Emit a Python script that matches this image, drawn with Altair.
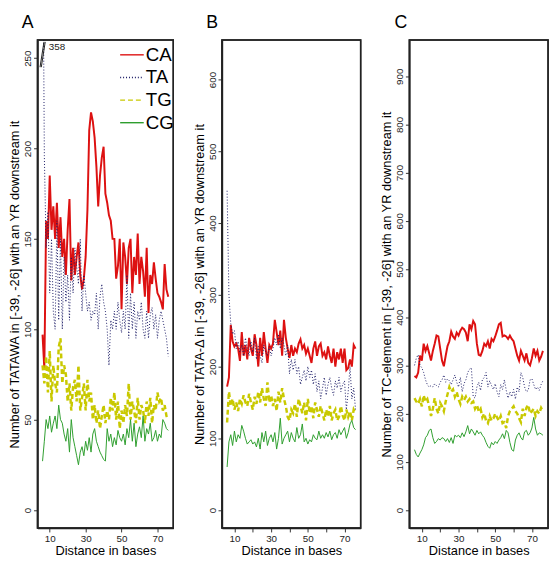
import altair as alt
import pandas as pd

x_vals = list(range(6, 77))
x_ticks = [10, 20, 30, 40, 50, 60, 70]

series_names = ["CA", "TA", "TG", "CG"]
series_colors = ["#dd1111", "#1c1c66", "#c9c900", "#2e9e2e"]
series_dash = [[], [1, 2], [5, 3], []]
series_width = [2, 1, 2.5, 1]

# ---------------- Panel A (TATAWA) ----------------
A_CA = [97, 78, 160, 150, 185, 155, 168, 150, 170, 145,
        162, 140, 150, 130, 155, 172, 127, 145, 130, 140,
        148, 130, 122, 128, 140, 166, 210, 220, 215, 206,
        190, 168, 185, 195, 201, 175, 170, 163, 160, 150,
        150, 128, 135, 150, 111, 148, 140, 125, 145, 150,
        120, 140, 130, 153, 125, 140, 132, 118, 145, 109,
        130, 125, 137, 128, 120, 118, 115, 111, 136, 122,
        118]
A_TA = [358, 196, 145, 165, 120, 150, 110, 100, 160, 105,
        150, 100, 140, 115, 130, 105, 140, 120, 145, 135,
        125, 150, 110, 130, 120, 110, 115, 105, 110, 108,
        120, 100, 118, 125, 115, 110, 100, 80, 105, 100,
        110, 100, 115, 105, 98, 110, 100, 130, 95, 120,
        100, 115, 95, 110, 105, 115, 100, 95, 110, 95,
        108, 112, 100, 108, 95, 105, 110, 105, 100, 95,
        85]
A_TG = [80, 70, 85, 65, 88, 60, 80, 70, 65, 90,
        95, 70, 80, 75, 60, 70, 55, 68, 72, 60,
        80, 55, 62, 70, 55, 72, 60, 65, 50, 58,
        48, 55, 45, 52, 58, 48, 55, 50, 62, 55,
        65, 50, 60, 45, 55, 48, 58, 52, 70, 50,
        60, 55, 48, 62, 50, 58, 55, 48, 60, 52,
        62, 48, 58, 55, 65, 60, 62, 55, 58, 52,
        50]
A_CG = [27, 38, 50, 45, 52, 43, 48, 52, 45, 58,
        50, 48, 42, 38, 45, 32, 50, 40, 35, 30,
        25, 32, 35, 30, 38, 33, 40, 32, 42, 45,
        38, 35, 32, 30, 28, 27, 45, 38, 42, 35,
        40, 36, 44, 40, 38, 42, 36, 45, 40, 50,
        38, 48, 35, 42, 46, 40, 52, 38, 45, 42,
        48, 38, 40, 44, 38, 42, 40, 50, 48, 45,
        44]

# ---------------- Panel B (TATA-delta) ----------------
B_CA = [172, 185, 258, 235, 228, 232, 225, 208, 248, 215,
        230, 210, 240, 225, 215, 245, 230, 200, 240, 215,
        248, 225, 205, 230, 225, 232, 265, 248, 230, 250,
        215, 265, 240, 225, 212, 230, 215, 225, 220, 232,
        238, 225, 230, 218, 225, 215, 205, 225, 235, 215,
        228, 232, 215, 220, 210, 228, 215, 205, 225, 200,
        220, 210, 225, 205, 225, 195, 198, 210, 200, 230,
        225]
B_TA = [445, 300, 260, 245, 250, 225, 235, 220, 230, 215,
        240, 225, 215, 235, 220, 240, 210, 228, 215, 205,
        230, 220, 215, 228, 215, 225, 240, 230, 245, 225,
        240, 230, 215, 230, 190, 210, 195, 210, 190, 200,
        175, 185, 195, 180, 200, 185, 195, 175, 190, 165,
        180, 155, 170, 185, 160, 175, 185, 170, 160, 180,
        170, 185, 165, 175, 180, 140, 165, 200, 155, 170,
        140]
B_TG = [122, 165, 145, 155, 140, 150, 138, 155, 148, 160,
        150, 145, 162, 150, 140, 158, 148, 165, 150, 170,
        155, 145, 178, 150, 160, 145, 155, 138, 165, 150,
        170, 155, 145, 130, 125, 140, 135, 148, 130, 155,
        145, 135, 150, 125, 155, 135, 145, 128, 150, 140,
        130, 145, 135, 125, 140, 130, 145, 125, 135, 140,
        125, 130, 145, 132, 125, 140, 130, 138, 125, 140,
        135]
B_CG = [60, 95, 105, 90, 110, 95, 105, 100, 118, 110,
        100, 92, 95, 98, 92, 95, 88, 100, 85, 108,
        95, 110, 90, 100, 105, 95, 108, 85, 100, 128,
        92, 100, 105, 110, 95, 108, 100, 95, 115, 100,
        105, 120, 95, 100, 92, 98, 95, 105, 100, 98,
        110, 100, 105, 100, 108, 102, 110, 98, 105, 108,
        100, 112, 105, 110, 115, 100, 108, 120, 125, 115,
        112]

# ---------------- Panel C (TC-element) ----------------
C_CA = [278, 275, 285, 320, 310, 345, 330, 340, 325, 310,
        330, 345, 362, 360, 335, 310, 298, 320, 340, 350,
        370, 360, 355, 368, 362, 372, 378, 375, 368, 350,
        385, 375, 392, 385, 345, 322, 320, 330, 345, 340,
        350, 335, 355, 350, 360, 372, 385, 388, 360, 362,
        360, 355, 362, 355, 350, 335, 320, 310, 330, 320,
        310, 325, 305, 300, 315, 335, 320, 330, 310, 318,
        330]
C_TA = [300, 315, 322, 300, 295, 285, 270, 260, 255, 258,
        255, 262, 258, 255, 265, 270, 280, 265, 272, 268,
        260, 270, 280, 265, 255, 275, 245, 262, 270, 285,
        292, 295, 235, 232, 255, 265, 248, 270, 275, 285,
        255, 268, 258, 250, 262, 245, 235, 260, 250, 270,
        248, 232, 245, 235, 250, 230, 255, 245, 285, 275,
        255, 245, 248, 270, 272, 260, 250, 255, 248, 260,
        268]
C_TG = [232, 225, 220, 230, 215, 238, 225, 230, 215, 195,
        210, 232, 210, 200, 222, 215, 205, 225, 240, 255,
        245, 250, 235, 245, 230, 220, 235, 228, 235, 225,
        230, 222, 225, 210, 218, 205, 210, 192, 200, 185,
        180, 195, 185, 190, 200, 192, 185, 195, 180, 182,
        170, 195, 205, 210, 215, 205, 200, 190, 182, 210,
        195, 212, 218, 200, 205, 210, 195, 205, 200, 212,
        205]
C_CG = [125, 115, 110, 118, 125, 135, 150, 155, 165, 168,
        150, 138, 142, 148, 145, 150, 148, 142, 148, 140,
        150, 138, 155, 152, 155, 150, 160, 152, 162, 175,
        158, 168, 162, 155, 165, 158, 162, 155, 150, 140,
        132, 128, 140, 135, 142, 138, 145, 150, 158, 148,
        165, 160, 140, 125, 122, 145, 155, 160, 150, 145,
        162, 165, 155, 160, 170, 192, 168, 155, 160, 158,
        155]

# off-scale annotation in panel A (value of TA at distance 6)
note_text = ["358"]
note_x = [9.5]
note_y = [256]
break_x1 = [4.6, 5.3]
break_y1 = [245, 245]
break_x2 = [6.8, 7.5]
break_y2 = [259, 259]

FONT = "Liberation Sans"
X_DOMAIN = [3.2, 78.8]
A_DOMAIN = [-10, 260]
B_DOMAIN = [-25, 655]
C_DOMAIN = [-37.5, 975]
H = 496
BOX = "#222222"


def x_axis():
    return alt.Axis(values=x_ticks, title="Distance in bases", grid=False,
                    domain=True, domainColor=BOX, domainWidth=1.5,
                    tickSize=4, labelPadding=2, titlePadding=1,
                    titleFontWeight="normal", titleFontSize=13, titleFont=FONT,
                    labelExpr="datum.value % 20 == 10 ? datum.label : ''")


def y_axis(ticks, ytitle):
    return alt.Axis(values=ticks, title=ytitle, grid=False,
                    domain=True, domainColor=BOX, domainWidth=1.5,
                    tickSize=4, labelAngle=270, labelPadding=1,
                    titleFontWeight="normal", titleFontSize=13, titleFont=FONT,
                    titleX=-16, titleY=H / 2)


def panel(values, ydomain, yticks, ytitle, legend):
    xs = alt.Scale(domain=X_DOMAIN, nice=False, zero=False)
    ys = alt.Scale(domain=ydomain, nice=False, zero=False)
    # plot box: a rectangle spanning the whole scale domain
    box_df = pd.DataFrame({"x": [X_DOMAIN[0]], "x2": [X_DOMAIN[1]],
                           "v": [ydomain[0]], "v2": [ydomain[1]]})
    box = alt.Chart(box_df).mark_rect(fill="white", fillOpacity=0, stroke=BOX,
                                      strokeWidth=1.5, strokeOpacity=1).encode(
        x=alt.X("x:Q", scale=xs, axis=x_axis()), x2="x2:Q",
        y=alt.Y("v:Q", scale=ys, axis=y_axis(yticks, ytitle)), y2="v2:Q")
    layers = []
    for i, name in enumerate(series_names):
        df = pd.DataFrame({"x": x_vals, "v": values[i], "series": name})
        layers.append(
            alt.Chart(df).mark_line(clip=True, strokeWidth=series_width[i]).encode(
                x=alt.X("x:Q", scale=xs, axis=x_axis()),
                y=alt.Y("v:Q", scale=ys, axis=y_axis(yticks, ytitle)),
                color=alt.Color("series:N",
                                scale=alt.Scale(domain=series_names, range=series_colors),
                                legend=legend),
                strokeDash=alt.StrokeDash("series:N",
                                          scale=alt.Scale(domain=series_names, range=series_dash),
                                          legend=legend),
            )
        )
    layers.append(box)
    return layers


legA = alt.Legend(title=None, orient="none", legendX=83, legendY=2,
                  symbolType="stroke", symbolSize=576, symbolStrokeWidth=1.4,
                  labelFontSize=19, labelFont=FONT, labelOffset=1, rowPadding=0,
                  padding=0, labelColor="#000")

layersA = panel([A_CA, A_TA, A_TG, A_CG], A_DOMAIN, [0, 50, 100, 150, 200, 250],
                "Number of TATAWA in [-39, -26] with an YR downstream it", legA)

note_df = pd.DataFrame({"x": note_x, "y": note_y, "t": note_text})
note = alt.Chart(note_df).mark_text(align="left", baseline="middle", fontSize=10,
                                    font=FONT, color="#222").encode(
    x="x:Q", y="y:Q", text="t:N")
brk_df = pd.DataFrame({"x": break_x1, "y": break_y1, "x2": break_x2, "y2": break_y2})
brk = alt.Chart(brk_df).mark_rule(color="#222", strokeWidth=1).encode(
    x="x:Q", y="y:Q", x2="x2:Q", y2="y2:Q")


def title(letter, dx):
    return alt.TitleParams(text=letter, anchor="start", dx=dx, fontSize=18, font=FONT,
                           fontWeight="normal", color="#000", offset=8, frame="group")


chartA = alt.layer(*layersA, brk, note).properties(
    width=138, height=H, title=title("A", -16))

chartB = alt.layer(*panel([B_CA, B_TA, B_TG, B_CG], B_DOMAIN, [0, 100, 200, 300, 400, 500, 600],
                          "Number of TATA-\u0394   in [-39, -26] with an YR downstream it",
                          None)).properties(width=141, height=H, title=title("B", -16))

chartC = alt.layer(*panel([C_CA, C_TA, C_TG, C_CG], C_DOMAIN,
                          [0, 100, 200, 300, 400, 500, 600, 700, 800, 900],
                          "Number of TC-element in [-39, -26] with an YR downstream it",
                          None)).properties(width=141, height=H, title=title("C", -15))

chart = alt.hconcat(chartA, chartB, chartC, spacing=49.5, bounds="flush").resolve_scale(
    color="independent", strokeDash="independent"
).properties(
    padding={"left": 0, "top": 0, "right": 2, "bottom": 2}
).configure(
    background="white"
).configure_view(
    stroke=BOX, strokeWidth=1.5
).configure_axis(
    tickColor="#333",
    labelFont=FONT, labelFontSize=10, labelColor="#222",
    titleFont=FONT, titleFontSize=13, titleFontWeight="normal", titleColor="#000"
)

chart.save("out.html", embed_options={"renderer": "svg", "actions": False})
